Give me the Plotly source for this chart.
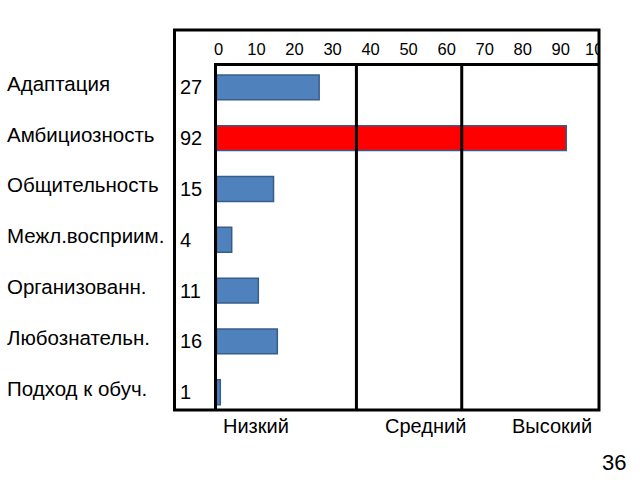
import plotly.graph_objects as go

categories = ["Адаптация", "Амбициозность", "Общительность", "Межл.восприим.",
              "Организованн.", "Любознательн.", "Подход к обуч."]
values = [27, 92, 15, 4, 11, 16, 1]
highlight = [False, True, False, False, False, False, False]
tick_values = [0, 10, 20, 30, 40, 50, 60, 70, 80, 90, 100]
level_bounds = [36.8, 64.5]
level_names = ["Низкий", "Средний", "Высокий"]
page_number = "36"

W, H = 640, 480
def px(x):
    return x / W
def py(y):
    return 1 - y / H

blue, blue_edge = "#4F81BD", "#385D8A"
red = "#FF0000"
colors = [red if h else blue for h in highlight]

fig = go.Figure()
fig.add_trace(go.Bar(
    x=values, y=categories, orientation="h",
    marker=dict(color=colors, line=dict(color=blue_edge, width=1.5)),
    width=0.49, showlegend=False, hoverinfo="skip",
))

font = "Liberation Sans, Arial, sans-serif"
x0p, x1p = 216.5, 599
y0p, y1p = 66, 410

fig.update_layout(
    width=W, height=H,
    margin=dict(l=0, r=0, t=0, b=0, autoexpand=False),
    paper_bgcolor="white", plot_bgcolor="white",
    font=dict(family=font, color="black"),
    xaxis=dict(
        domain=[px(x0p), px(x1p)], range=[0, 100.6], side="top",
        tickvals=tick_values, ticktext=[str(v) for v in tick_values],
        showgrid=False, zeroline=False, ticks="", ticklabelstandoff=1,
        ticklabelshift=2, automargin=False,
        tickfont=dict(size=16.5, family=font, color="black"),
        showline=True, linecolor="black", linewidth=3,
        fixedrange=True,
    ),
    yaxis=dict(
        domain=[py(y1p), py(y0p)], range=[6.35, -0.42],
        categoryorder="array", categoryarray=categories,
        showticklabels=False, showgrid=False, zeroline=False,
        showline=True, linecolor="black", linewidth=2.5, automargin=False,
        fixedrange=True,
    ),
)

# white mask clipping tick text beyond the frame
fig.add_shape(type="rect", xref="paper", yref="paper", layer="above",
              x0=px(600), x1=1, y0=py(66), y1=py(25),
              line=dict(width=0), fillcolor="white")
# outer frame
fig.add_shape(type="rect", xref="paper", yref="paper", layer="above",
              x0=px(174.5), x1=px(599), y0=py(410), y1=py(30),
              line=dict(color="black", width=3), fillcolor="rgba(0,0,0,0)")
# level boundaries
for b in level_bounds:
    fig.add_shape(type="line", xref="x", yref="paper",
                  x0=b, x1=b, y0=py(y1p), y1=py(y0p),
                  line=dict(color="black", width=3))

# category labels and value labels
for cat, v in zip(categories, values):
    fig.add_annotation(x=px(5), xref="paper", y=cat, yref="y", yshift=4,
                       text=cat, showarrow=False, xanchor="left",
                       font=dict(size=20.5, family=font, color="black"))
    fig.add_annotation(x=px(178), xref="paper", y=cat, yref="y", yshift=0,
                       text=str(v), showarrow=False, xanchor="left",
                       font=dict(size=20, family=font, color="black"))

# level names
name_x = [256, 425, 552]
for nm, xx in zip(level_names, name_x):
    fig.add_annotation(x=px(xx), xref="paper", y=py(426), yref="paper",
                       text=nm, showarrow=False, xanchor="center", yanchor="middle",
                       font=dict(size=20, family=font, color="black"))

fig.add_annotation(x=px(614), xref="paper", y=py(462), yref="paper",
                   text=page_number, showarrow=False, xanchor="center", yanchor="middle",
                   font=dict(size=22, family=font, color="black"))

fig.write_html("out.html", config={"displayModeBar": False})
